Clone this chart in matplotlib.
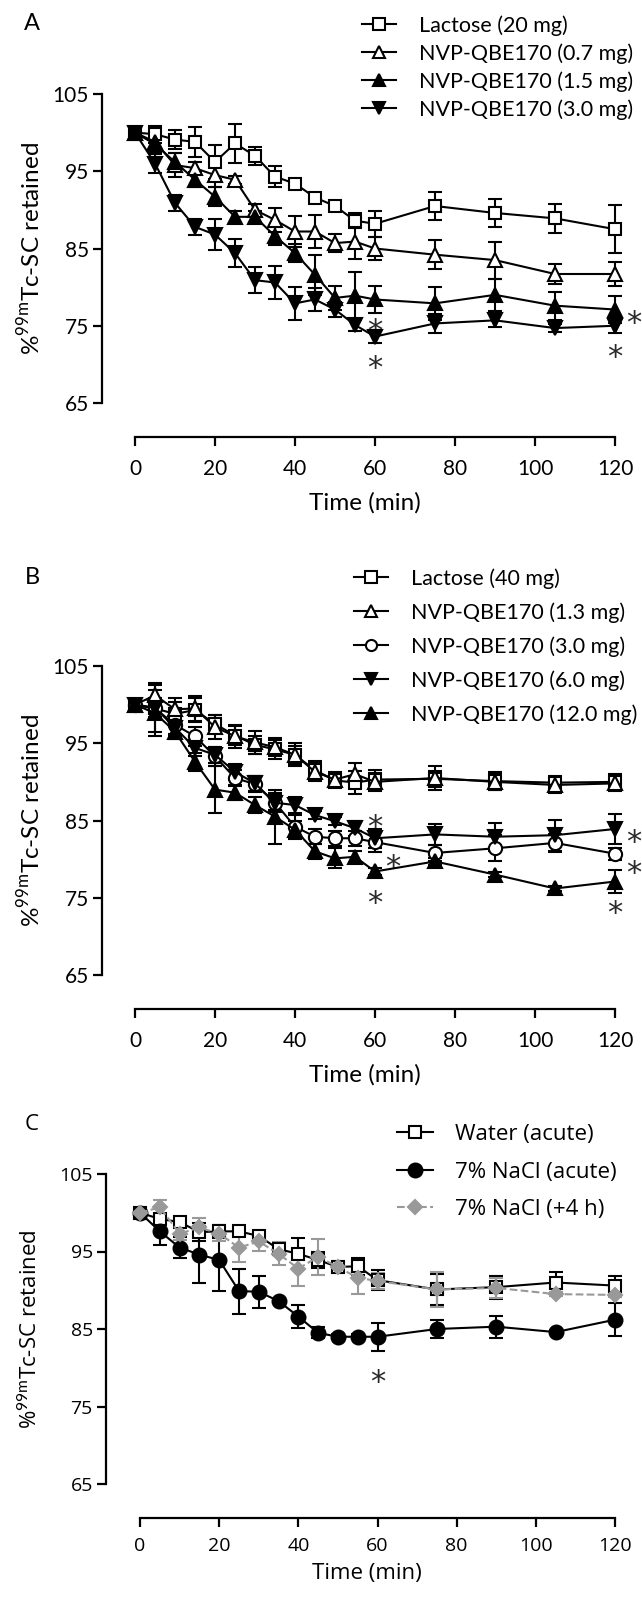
import matplotlib
matplotlib.use("Agg")
import matplotlib.pyplot as plt
from matplotlib.lines import Line2D

plt.rcParams['font.family'] = ['Lato', 'DejaVu Sans']
plt.rcParams['mathtext.fontset'] = 'custom'
plt.rcParams['mathtext.rm'] = 'Lato'

# ---------------- data ----------------
time_min = [0, 5, 10, 15, 20, 25, 30, 35, 40, 45, 50, 55, 60, 75, 90, 105, 120]

# Panel A
a_labels = ["Lactose (20 mg)", "NVP-QBE170 (0.7 mg)", "NVP-QBE170 (1.5 mg)", "NVP-QBE170 (3.0 mg)"]
a_lactose20 = [100, 99.8, 99.1, 98.8, 96.2, 98.6, 97.0, 94.3, 93.4, 91.6, 90.5, 88.6, 88.2, 90.5, 89.6, 88.9, 87.5]
a_lactose20_err = [0, 1.1, 1.2, 1.9, 2.2, 2.5, 1.2, 1.4, 0.3, 0.3, 0.4, 1.0, 1.7, 1.8, 1.8, 1.9, 3.1]
a_qbe07 = [100, 98.8, 95.8, 95.4, 94.5, 93.9, 90.0, 88.7, 87.2, 87.2, 85.7, 85.9, 85.0, 84.2, 83.5, 81.7, 81.7]
a_qbe07_err = [0, 1.0, 1.5, 0.8, 1.5, 0.5, 0.8, 1.5, 2.0, 2.1, 1.2, 2.3, 1.5, 1.9, 2.4, 1.3, 1.6]
a_qbe15 = [100, 98.5, 96.2, 93.9, 91.7, 89.1, 89.1, 86.6, 84.4, 81.6, 78.6, 78.9, 78.4, 77.9, 79.0, 77.6, 77.1]
a_qbe15_err = [0, 1.0, 1.2, 1.0, 1.2, 0.8, 0.8, 1.2, 1.2, 2.6, 1.5, 3.1, 1.8, 2.1, 2.1, 1.8, 1.8]
a_qbe30 = [100, 96.0, 90.9, 87.8, 86.8, 84.4, 80.9, 80.6, 77.9, 78.4, 77.1, 75.1, 73.6, 75.3, 75.7, 74.7, 75.0]
a_qbe30_err = [0, 1.2, 1.0, 1.0, 2.0, 1.8, 1.7, 2.1, 2.1, 1.5, 1.0, 0.8, 0.8, 1.2, 0.8, 0.5, 1.0]
a_sig_times = [60, 60, 120, 120]
a_sig_series = [2, 3, 2, 3]
a_sig_side = ["below", "below", "right", "below"]

# Panel B
b_labels = ["Lactose (40 mg)", "NVP-QBE170 (1.3 mg)", "NVP-QBE170 (3.0 mg)", "NVP-QBE170 (6.0 mg)", "NVP-QBE170 (12.0 mg)"]
b_lactose40 = [100, 99.5, 98.8, 99.3, 97.5, 96.0, 94.8, 94.2, 93.5, 91.5, 90.2, 89.9, 90.3, 90.4, 90.1, 89.9, 90.0]
b_lactose40_err = [0, 3.0, 1.5, 1.5, 1.2, 1.2, 1.2, 1.2, 1.2, 1.2, 1.0, 1.5, 1.2, 1.0, 1.2, 0.8, 1.0]
b_qbe13 = [100, 101.2, 99.4, 99.5, 97.1, 95.9, 95.1, 94.5, 93.5, 91.3, 90.3, 91.0, 90.0, 90.5, 90.0, 89.6, 89.8]
b_qbe13_err = [0, 1.6, 1.5, 1.6, 1.5, 1.5, 1.5, 1.2, 1.5, 1.2, 1.0, 1.5, 1.2, 1.5, 1.0, 1.0, 1.0]
b_qbe30 = [100, 99.5, 97.4, 95.9, 93.3, 90.5, 89.7, 87.3, 84.2, 82.9, 82.7, 82.7, 82.2, 80.8, 81.4, 82.1, 80.7]
b_qbe30_err = [0, 1.2, 1.2, 1.2, 1.2, 1.0, 1.0, 1.2, 1.5, 1.0, 1.0, 1.0, 1.3, 1.0, 1.7, 1.2, 0.8]
b_qbe60 = [100, 99.6, 97.0, 94.4, 93.5, 91.3, 89.8, 87.3, 87.0, 85.7, 84.9, 84.0, 82.7, 83.2, 82.9, 83.1, 83.9]
b_qbe60_err = [0, 1.2, 1.0, 1.0, 1.0, 1.0, 1.0, 1.0, 1.0, 0.5, 0.5, 1.0, 1.2, 1.4, 1.8, 2.0, 2.0]
b_qbe120 = [100, 98.9, 96.5, 92.6, 89.0, 88.6, 87.0, 85.5, 83.8, 81.0, 80.1, 80.3, 78.4, 79.7, 78.0, 76.2, 77.1]
b_qbe120_err = [0, 3.0, 1.0, 1.2, 3.0, 1.0, 1.0, 3.5, 1.2, 1.0, 1.3, 0.8, 0.5, 0.5, 0.3, 0.3, 1.5]
b_sig_times = [60, 60, 60, 120, 120, 120]
b_sig_series = [3, 2, 4, 3, 2, 4]
b_sig_side = ["above", "right_low", "below", "right", "right_mid", "below"]

# Panel C
c_labels = ["Water (acute)", "7% NaCl (acute)", "7% NaCl (+4 h)"]
c_water = [100, 99.2, 98.8, 97.5, 97.6, 97.6, 97.0, 95.3, 94.7, 93.9, 93.0, 93.1, 91.3, 90.1, 90.4, 91.0, 90.6]
c_water_err = [0, 0.6, 0.4, 1.2, 0.8, 0.6, 0.6, 0.8, 2.0, 1.0, 0.5, 1.1, 1.3, 2.0, 1.5, 1.4, 1.2]
c_nacl = [100, 97.6, 95.5, 94.6, 93.9, 89.9, 89.8, 88.6, 86.6, 84.5, 84.0, 84.0, 84.0, 85.0, 85.3, 84.6, 86.2]
c_nacl_err = [0, 1.8, 1.4, 3.7, 4.0, 2.9, 2.1, 0.3, 1.5, 0.7, 0.3, 0.3, 1.8, 1.2, 1.4, 0.3, 2.1]
c_nacl4h = [100, 100.7, 97.3, 98.1, 97.3, 95.5, 96.3, 94.7, 92.8, 94.3, 93.0, 91.6, 91.2, 90.1, 90.3, 89.5, 89.4]
c_nacl4h_err = [0, 0.9, 0.8, 1.2, 1.0, 1.8, 1.2, 1.5, 2.3, 2.3, 0.8, 2.1, 1.0, 2.3, 1.3, 0.3, 0.3]
c_sig_times = [60]
c_sig_series = [1]
c_sig_side = ["below_far"]

y_ticks = [65, 75, 85, 95, 105]
x_ticks = [0, 20, 40, 60, 80, 100, 120]
ylabel_text = r"%$^{\mathrm{99m}}$Tc-SC retained"
xlabel_text = "Time (min)"

# ---------------- layout ----------------
W, H = 642, 1598
fig = plt.figure(figsize=(W / 100, H / 100), dpi=100)

SIG_OFFSETS_PX = {"below": (0, 22), "above": (0, -21), "right": (19, 4),
                  "right_mid": (19, 10), "right_low": (18, 16), "below_far": (0, 36)}


def fx(px):
    return px / W


def fy(py):
    return 1 - py / H


def ax_rect(left_px, right_px, top_px, bottom_px):
    return [left_px / W, 1 - bottom_px / H, (right_px - left_px) / W, (bottom_px - top_px) / H]


def style_axes(ax, font, fs, xpad=9):
    for s in ["top", "right"]:
        ax.spines[s].set_visible(False)
    ax.spines["left"].set_bounds(65, 105)
    ax.spines["bottom"].set_bounds(0, 120)
    for s in ["left", "bottom"]:
        ax.spines[s].set_linewidth(1.6)
    ax.set_yticks(y_ticks)
    ax.set_xticks(x_ticks)
    ax.tick_params(direction="out", length=6.5, width=1.6, labelsize=fs)
    ax.tick_params(axis="x", pad=xpad)
    ax.tick_params(axis="y", pad=3)
    for lab in ax.get_xticklabels() + ax.get_yticklabels():
        lab.set_family(font)


def draw_series(ax, y, e, marker, mfc, color="black", ls="-", ms=9):
    ax.errorbar(time_min, y, yerr=e, fmt=marker, ls=ls, color=color, mfc=mfc, mec=color,
                ms=ms, mew=1.5, lw=1.5, elinewidth=1.5, capsize=5, capthick=1.5, zorder=3,
                clip_on=False)


def draw_sig(ax, series_list, times, idxs, sides, fs=22):
    for t, i, side in zip(times, idxs, sides):
        v = series_list[i][time_min.index(t)]
        dx, dy = SIG_OFFSETS_PX[side]
        ax.annotate("*", xy=(t, v), xytext=(dx * 0.72, -dy * 0.72 - 0.6 * fs),
                    textcoords="offset points", ha="center", va="baseline",
                    fontsize=fs, color="#2a2a2a", family="DejaVu Sans", annotation_clip=False)


def draw_legend(markers, fills, labels, x_handle0, x_handle1, x_text, rows_px, fs, font,
                colors=None, styles=None, sizes=None):
    for k, (m, f, lab, ry) in enumerate(zip(markers, fills, labels, rows_px)):
        c = colors[k] if colors else "black"
        ls = styles[k] if styles else "-"
        ms = sizes[k] if sizes else 8
        ln = Line2D([fx(x_handle0), fx(x_handle1)], [fy(ry), fy(ry)], transform=fig.transFigure,
                    color=c, ls=ls, lw=1.5)
        fig.add_artist(ln)
        mk = Line2D([fx((x_handle0 + x_handle1) / 2)], [fy(ry)], transform=fig.transFigure,
                    marker=m, mfc=f, mec=c, ms=ms, mew=1.5, ls="none")
        fig.add_artist(mk)
        fig.text(fx(x_text), fy(ry), lab, ha="left", va="center_baseline", fontsize=fs, family=font)


# Panel A
axA = fig.add_axes(ax_rect(102, 627, 94 - 7.73, 437))
axA.set_xlim(-8.25, 123)
axA.set_ylim(60.6, 106)
a_series = [a_lactose20, a_qbe07, a_qbe15, a_qbe30]
a_errs = [a_lactose20_err, a_qbe07_err, a_qbe15_err, a_qbe30_err]
a_mk = ["s", "^", "^", "v"]
a_fill = ["white", "white", "black", "black"]
for y, e, m, f in zip(a_series, a_errs, a_mk, a_fill):
    draw_series(axA, y, e, m, f, ms=9.5 if m != "s" else 8.5)
style_axes(axA, "Lato", 15)
draw_sig(axA, a_series, a_sig_times, a_sig_series, a_sig_side)
draw_legend(a_mk, a_fill, a_labels, 362, 396, 419, [24, 52, 80, 108], 15.5, "Lato")
axA.set_xlabel(xlabel_text, fontsize=17.5, labelpad=10)
fig.text(fx(30), fy(249), ylabel_text, rotation=90, ha="center", va="center", fontsize=17.5)
fig.text(fx(32), fy(24), "A", ha="center", va="center", fontsize=17)

# Panel B
axB = fig.add_axes(ax_rect(102, 627, 666 - 7.73, 1009))
axB.set_xlim(-8.25, 123)
axB.set_ylim(60.6, 106)
b_series = [b_lactose40, b_qbe13, b_qbe30, b_qbe60, b_qbe120]
b_errs = [b_lactose40_err, b_qbe13_err, b_qbe30_err, b_qbe60_err, b_qbe120_err]
b_mk = ["s", "^", "o", "v", "^"]
b_fill = ["white", "white", "white", "black", "black"]
for y, e, m, f in zip(b_series, b_errs, b_mk, b_fill):
    draw_series(axB, y, e, m, f, ms=9.5 if m != "s" else 8.5)
style_axes(axB, "Lato", 15)
draw_sig(axB, b_series, b_sig_times, b_sig_series, b_sig_side)
draw_legend(b_mk, b_fill, b_labels, 354, 388, 411, [577, 611, 645, 679, 713], 15.5, "Lato")
axB.set_xlabel(xlabel_text, fontsize=17.5, labelpad=10)
fig.text(fx(30), fy(821), ylabel_text, rotation=90, ha="center", va="center", fontsize=17.5)
fig.text(fx(32), fy(577), "B", ha="center", va="center", fontsize=17)

# Panel C
C105 = 1174
CPU = 7.75
axC = fig.add_axes(ax_rect(106, 106 + 131.6 * 3.958, C105 - CPU, C105 + 40 * CPU + 34))
axC.set_xlim(-8.6, 123)
axC.set_ylim(65 - 34 / CPU, 106)
c_series = [c_water, c_nacl, c_nacl4h]
c_errs = [c_water_err, c_nacl_err, c_nacl4h_err]
draw_series(axC, c_water, c_water_err, "s", "white", ms=8.5)
draw_series(axC, c_nacl, c_nacl_err, "o", "black", ms=10)
draw_series(axC, c_nacl4h, c_nacl4h_err, "D", "#999999", color="#999999", ls="--", ms=7)
style_axes(axC, "Open Sans", 14, xpad=7)
draw_sig(axC, c_series, c_sig_times, c_sig_series, c_sig_side)
draw_legend(["s", "o", "D"], ["white", "black", "#999999"], c_labels, 397, 433, 455,
            [C105 - 42, C105 - 4, C105 + 33], 16, "Open Sans",
            colors=["black", "black", "#999999"], styles=["-", "-", "--"], sizes=[8, 10, 7])
axC.set_xlabel(xlabel_text, fontsize=16, labelpad=6, family="Open Sans")
fig.text(fx(30), fy(C105 + 155), ylabel_text, rotation=90, ha="center", va="center", fontsize=16,
         family="Open Sans")
fig.text(fx(32), fy(C105 - 50), "C", ha="center", va="center", fontsize=16, family="Open Sans")

fig.savefig("out.png", dpi=100)
